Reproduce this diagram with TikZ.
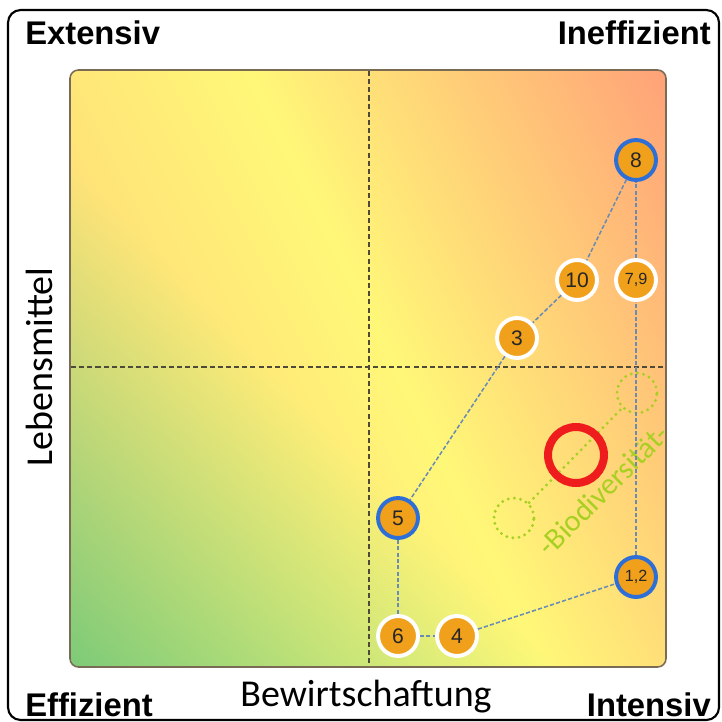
\documentclass[tikz,border=0pt]{standalone}
\usepackage{fontspec}
\setmainfont{Liberation Sans}
\newfontfamily\calib{Carlito}
\definecolor{orangec}{HTML}{F0A01A}
\definecolor{bluec}{HTML}{2D6FD6}
\definecolor{edgec}{HTML}{6A8CB4}
\definecolor{quadc}{HTML}{4E4A3A}
\definecolor{bordc}{HTML}{7A6B55}
\definecolor{greenc}{HTML}{A8D022}
\definecolor{redc}{HTML}{EE1C1C}
\pgfdeclarefunctionalshading{plotshade}{\pgfpoint{0bp}{0bp}}{\pgfpoint{100bp}{100bp}}{}{
 25 sub 50 div exch 25 sub 50 div exch
 2 copy 0.6 mul exch 0.62 mul add 0.49 add
 dup 1 gt { pop 1 } if
 3 1 roll
 0.5 mul add 0.8 sub
 dup 0 lt { -0.22 mul } { 0.48 mul } ifelse
 0.97 exch sub
 0.47
}
\tikzset{
  corner/.style={font=\fontsize{23.3}{26}\selectfont\bfseries, text=black, inner sep=0pt},
  axislab/.style={font=\calib\fontsize{27}{30}\selectfont, text=black, inner sep=0pt},
  ptwhite/.style={circle, fill=orangec, draw=white, line width=2.8pt, minimum size=28.4pt, inner sep=0pt, text=black!85, font=\fontsize{15}{16}\selectfont},
  ptblue/.style={ptwhite, draw=bluec},
  small/.style={font=\fontsize{11.5}{12}\selectfont},
  edge/.style={draw=edgec, line width=1.1pt, dash pattern=on 3pt off 1.5pt},
  quad/.style={draw=quadc, line width=1.4pt, dash pattern=on 3.6pt off 2.2pt},
  gcirc/.style={circle, draw=greenc, line width=2.3pt, dash pattern=on 0pt off 4.4pt, line cap=round, minimum size=28.4pt, inner sep=0pt},
  gdot/.style={draw=greenc, line width=2.3pt, dash pattern=on 0pt off 4.4pt, line cap=round},
}
\begin{document}
\begin{tikzpicture}[x=0.025cm, y=-0.025cm]
\useasboundingbox (0,0) rectangle (722,722);
\fill[white] (0,0) rectangle (722,722);
% outer frame
\draw[black, line width=1.5pt, rounded corners=9pt] (8,10) rectangle (719,720);
% plot area
\shadedraw[shading=plotshade, draw=bordc, line width=1.1pt, rounded corners=6pt] (70,70) rectangle (666,667);
% quadrant lines
\coordinate (vt) at (369,71);
\coordinate (vb) at (369,666);
\coordinate (hl) at (71,367);
\coordinate (hr) at (665,367);
\draw[quad] (vt) -- (vb);
\draw[quad] (hl) -- (hr);
% corner labels
\node[corner, anchor=base west] (ext) at (25,45) {Extensiv};
\node[corner, anchor=base east] (ineff) at (711,45) {Ineffizient};
\node[corner, anchor=base west] (eff) at (25,716) {Effizient};
\node[corner, anchor=base east] (inten) at (711,716) {Intensiv};
% axis labels
\node[axislab, anchor=base] (bew) at (366,706) {Bewirtschaftung};
\node[axislab, anchor=base, rotate=90] (leb) at (52,367) {Lebensmittel};
% biodiversity
\node[gcirc] (g1) at (514,518) {};
\node[gcirc] (g2) at (637,393) {};
\draw[gdot] (g1) -- (g2);
\node[circle, draw=redc, line width=5.7pt, minimum size=39.8pt, inner sep=0pt] (red) at (576,455) {};
\node[font=\calib\fontsize{21.5}{22}\selectfont, text=greenc, rotate=45, inner sep=0pt] (bio) at (603,490) {-Biodiversität-};
% points
\node[ptblue] (n8) at (636,160) {8};
\node[ptwhite] (n10) at (577,280) {10};
\node[ptwhite, small] (n79) at (636,280) {7,9};
\node[ptwhite] (n3) at (517,338) {3};
\node[ptblue] (n5) at (398,518) {5};
\node[ptblue, small] (n12) at (636,577) {1,2};
\node[ptwhite] (n6) at (398,636) {6};
\node[ptwhite] (n4) at (457,636) {4};
% connectors
\draw[edge] (n8) -- (n10);
\draw[edge] (n10) -- (n3);
\draw[edge] (n3) -- (n5);
\draw[edge] (n5) -- (n6);
\draw[edge] (n6) -- (n4);
\draw[edge] (n4) -- (n12);
\draw[edge] (n12) -- (n79);
\draw[edge] (n79) -- (n8);
\end{tikzpicture}
\end{document}
